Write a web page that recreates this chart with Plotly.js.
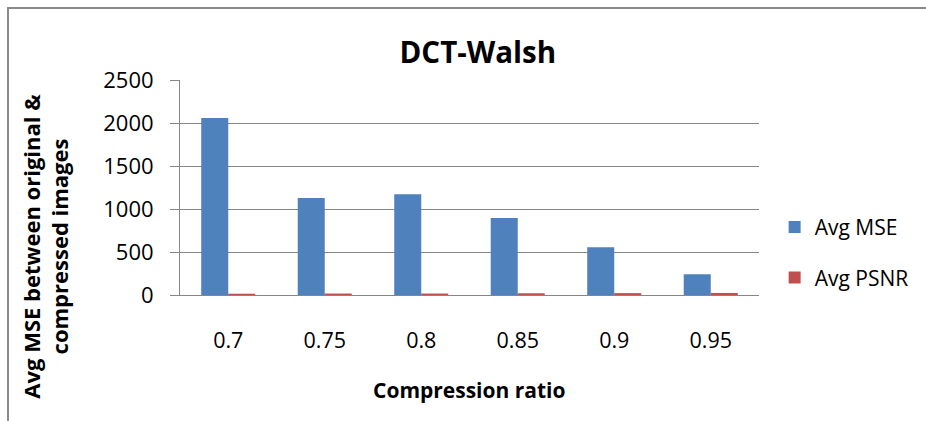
<!DOCTYPE html>
<html>
<head>
<meta charset="utf-8">
<script src="https://cdn.plot.ly/plotly-3.0.1.min.js"></script>
<style>
  html, body { margin: 0; padding: 0; background: #fff; }
  #wrap { position: relative; width: 926px; height: 421px; }
  #chart { width: 926px; height: 421px; }
  #frame { position: absolute; left: 7px; top: 7px; right: 0; bottom: 0;
           border-left: 2px solid #8a8a8a; border-top: 2px solid #8a8a8a;
           pointer-events: none; }
</style>
</head>
<body>
<div id="wrap">
  <div id="chart"></div>
  <div id="frame"></div>
</div>
<script>
const categories = ["0.7", "0.75", "0.8", "0.85", "0.9", "0.95"];
const avgMSE = [2058, 1128, 1171, 895, 555, 241];
const avgPSNR = [15, 17, 17, 20, 22, 24];
const yTicks = [0, 500, 1000, 1500, 2000, 2500];

const font = "'Open Sans', 'Liberation Sans', sans-serif";

const traces = [
  { type: "bar", name: "Avg MSE", x: categories, y: avgMSE,
    marker: { color: "#4f81bd" }, legendgroup: "a" },
  { type: "bar", name: "Avg PSNR", x: categories, y: avgPSNR,
    marker: { color: "#c0504d" }, legendgroup: "b" }
];

const layout = {
  width: 926, height: 421,
  margin: { l: 180, r: 164, t: 80, b: 126 },
  paper_bgcolor: "#fff", plot_bgcolor: "#fff",
  font: { family: font, color: "#000", size: 21 },
  title: { text: "<b>DCT-Walsh</b>", x: 0.516, xanchor: "center", y: 0.875, yanchor: "middle",
           font: { family: font, size: 29.5, color: "#000" } },
  barmode: "group", bargap: 0.44, bargroupgap: 0,
  showlegend: true,
  legend: { x: 1.027, xanchor: "left", y: 0.198, yanchor: "middle",
            traceorder: "grouped", tracegroupgap: 20,
            font: { family: font, size: 21, color: "#000" } },
  xaxis: {
    type: "category", showline: true, linecolor: "#868686", linewidth: 1,
    ticks: "", ticklabelstandoff: 26, tickfont: { family: font, size: 21.5 },
    fixedrange: true
  },
  yaxis: {
    range: [0, 2500], tickvals: yTicks, ticktext: yTicks.map(String),
    showgrid: true, gridcolor: "#868686", gridwidth: 1,
    showline: true, linecolor: "#868686", linewidth: 1,
    ticks: "outside", ticklen: 9, tickcolor: "#868686",
    ticklabelstandoff: 12, tickfont: { family: font, size: 22 },
    zeroline: false,
    fixedrange: true
  },
  annotations: [
    { text: "<b>Compression ratio</b>", xref: "paper", yref: "paper",
      x: 0.5, y: -0.442, xanchor: "center", yanchor: "middle", showarrow: false,
      font: { family: font, size: 21, color: "#000" } },
    { text: "<b>Avg MSE between original &<br>compressed images</b>", xref: "paper", yref: "paper",
      x: -0.232, y: 0.228, xanchor: "center", yanchor: "middle", showarrow: false,
      textangle: -90, font: { family: font, size: 22, color: "#000" } }
  ]
};

Plotly.newPlot("chart", traces, layout, { displayModeBar: false, staticPlot: true });
</script>
</body>
</html>
